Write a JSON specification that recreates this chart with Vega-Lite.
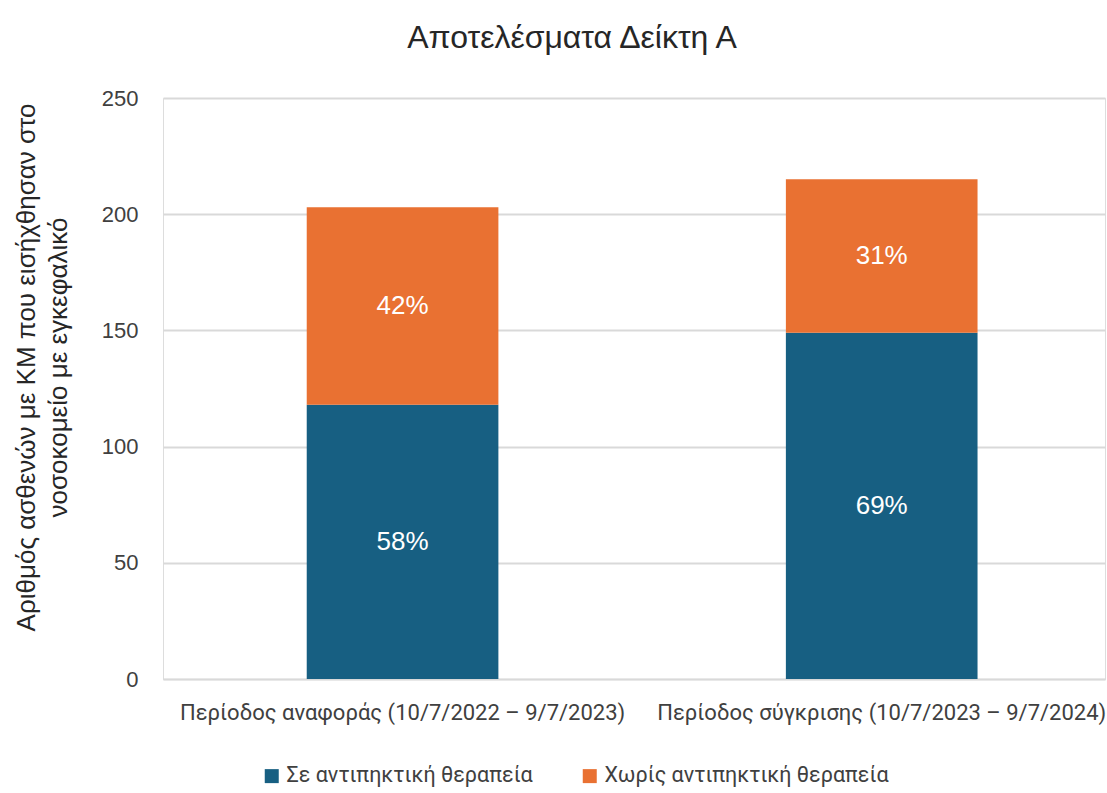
{
  "$schema": "https://vega.github.io/schema/vega-lite/v6.json",
  "width": 942,
  "height": 581,
  "autosize": {"type": "none"},
  "padding": {"left": 163, "top": 98, "right": 2, "bottom": 114},
  "background": "white",
  "title": {
    "text": "Αποτελέσματα Δείκτη Α",
    "fontSize": 32,
    "font": "Liberation Sans",
    "fontWeight": "normal",
    "color": "#262626",
    "anchor": "middle",
    "dx": -62,
    "offset": 32
  },
  "data": {
    "values": [
      {"period": "Περίοδος αναφοράς (10/7/2022 – 9/7/2023)", "series": "Σε αντιπηκτική θεραπεία", "value": 118, "label": "58%"},
      {"period": "Περίοδος αναφοράς (10/7/2022 – 9/7/2023)", "series": "Χωρίς αντιπηκτική θεραπεία", "value": 85, "label": "42%"},
      {"period": "Περίοδος σύγκρισης (10/7/2023 – 9/7/2024)", "series": "Σε αντιπηκτική θεραπεία", "value": 149, "label": "69%"},
      {"period": "Περίοδος σύγκρισης (10/7/2023 – 9/7/2024)", "series": "Χωρίς αντιπηκτική θεραπεία", "value": 66, "label": "31%"}
    ]
  },
  "transform": [
    {"stack": "value", "groupby": ["period"], "sort": [{"field": "series", "order": "ascending"}], "as": ["v0", "v1"]},
    {"calculate": "(datum.v0 + datum.v1) / 2", "as": "mid"}
  ],
  "encoding": {
    "x": {
      "field": "period",
      "type": "nominal",
      "sort": null,
      "scale": {"paddingInner": 0.6, "paddingOuter": 0.283, "align": 0.53},
      "axis": {
        "title": null,
        "labelAngle": 0,
        "labelFont": "Roboto",
        "labelFontSize": 22,
        "labelColor": "#404040",
        "labelPadding": 23,
        "labelLimit": 700,
        "ticks": false,
        "domainColor": "#d9d9d9",
        "domainWidth": 1.5
      }
    }
  },
  "layer": [
    {
      "mark": {"type": "bar"},
      "encoding": {
        "y": {
          "field": "v1",
          "type": "quantitative",
          "scale": {"domain": [0, 250], "nice": false},
          "axis": {
            "values": [0, 50, 100, 150, 200, 250],
            "title": ["Αριθμός ασθενών με ΚΜ που εισήχθησαν στο", "νοσοκομείο με εγκεφαλικό"],
            "titleFont": "Liberation Sans",
            "titleFontSize": 26,
            "titleFontWeight": "normal",
            "titleColor": "#262626",
            "titleLineHeight": 32,
            "titleX": -137,
            "titleY": 269,
            "titleAngle": -90,
            "titleAlign": "center",
            "titleBaseline": "middle",
            "labelFont": "Liberation Sans",
            "labelFontSize": 22,
            "labelColor": "#404040",
            "labelPadding": 25,
            "ticks": false,
            "domain": false,
            "grid": true,
            "gridColor": "#d9d9d9",
            "gridWidth": 1.8
          }
        },
        "y2": {"field": "v0"},
        "color": {
          "field": "series",
          "type": "nominal",
          "scale": {
            "domain": ["Σε αντιπηκτική θεραπεία", "Χωρίς αντιπηκτική θεραπεία"],
            "range": ["#175f82", "#e97132"]
          },
          "legend": {
            "title": null,
            "orient": "none",
            "direction": "horizontal",
            "legendX": 98,
            "legendY": 667,
            "symbolType": "square",
            "symbolSize": 196,
            "symbolStrokeWidth": 0,
            "labelFont": "Roboto",
            "labelFontSize": 21.5,
            "labelColor": "#404040",
            "labelOffset": 4,
            "labelLimit": 500,
            "columnPadding": 46
          }
        }
      }
    },
    {
      "mark": {"type": "text", "color": "white", "fontSize": 26, "font": "Liberation Sans"},
      "encoding": {
        "y": {"field": "mid", "type": "quantitative"},
        "text": {"field": "label"}
      }
    }
  ]
}
